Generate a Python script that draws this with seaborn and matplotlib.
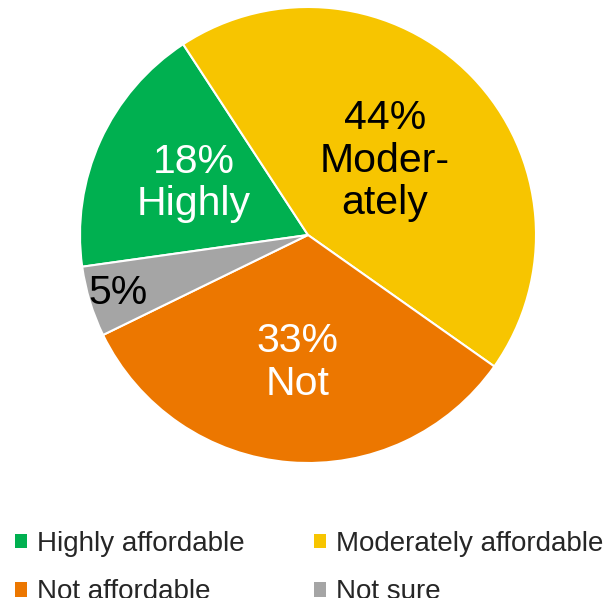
import matplotlib.pyplot as plt
import seaborn as sns
import numpy as np
from matplotlib.patches import Patch

# Data
categories = ['Highly affordable', 'Moderately affordable', 'Not affordable', 'Not sure']
shares = [18, 44, 33, 5]
slice_labels = ['18%\nHighly', '44%\nModer-\nately', '33%\nNot', '5%']

colors = ['#00B050', '#F7C500', '#EC7700', '#A5A5A5']
text_colors = ['white', 'black', 'white', 'black']
label_dist = [0.55, 0.47, 0.56, 0.87]

sns.set_theme(style="white")
plt.rcParams['font.family'] = ['Liberation Sans', 'DejaVu Sans']

fig = plt.figure(figsize=(6.08, 5.98), dpi=100)
ax = fig.add_axes([80 / 608, 135 / 598, 456 / 608, 456 / 598])

wedges, _ = ax.pie(
    shares,
    colors=colors,
    startangle=188,
    counterclock=False,
    radius=1,
    wedgeprops=dict(edgecolor='white', linewidth=1.5),
)
ax.set_xlim(-1, 1)
ax.set_ylim(-1, 1)
ax.set_aspect('equal')
ax.axis('off')

# Slice labels
for w, lab, tc, d in zip(wedges, slice_labels, text_colors, label_dist):
    ang = np.deg2rad((w.theta1 + w.theta2) / 2)
    ax.text(d * np.cos(ang), d * np.sin(ang), lab, ha='center', va='center',
            fontsize=29.5, color=tc, linespacing=1.15)

# Legend (row order: Highly, Moderately / Not, Not sure)
handles = [Patch(facecolor=c, edgecolor='none') for c in colors]
order = [0, 2, 1, 3]
fig.legend(
    [handles[i] for i in order],
    [categories[i] for i in order],
    ncol=2,
    loc='upper left',
    bbox_to_anchor=(4 / 608, 1 - 520 / 598),
    frameon=False,
    fontsize=20,
    handlelength=0.43,
    handleheight=0.43,
    handletextpad=0.36,
    columnspacing=2.5,
    labelspacing=0.8,
    borderaxespad=0,
)

fig.savefig('out.png', dpi=100)
